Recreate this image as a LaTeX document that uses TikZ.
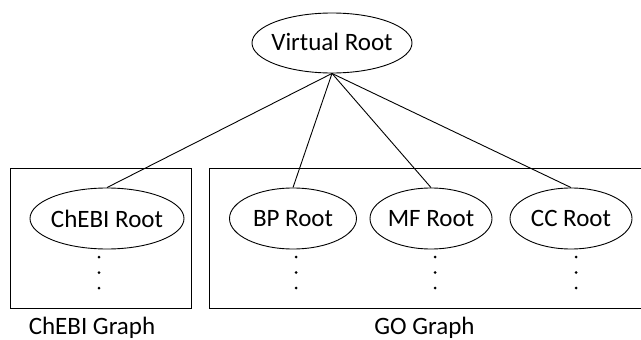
\documentclass[tikz,border=0pt]{standalone}
\usepackage{fontspec}
\setmainfont{Carlito}
\usetikzlibrary{shapes.geometric}

\tikzset{
  rootnode/.style={draw, ellipse, line width=0.9pt, inner sep=0pt,
    font=\fontsize{25}{30}\selectfont},
  graphbox/.style={draw, rectangle, line width=0.9pt, inner sep=0pt},
  edge/.style={line width=0.9pt},
  caption/.style={anchor=base, inner sep=0pt, font=\fontsize{25}{30}\selectfont},
  vdot/.style={fill, circle, inner sep=0pt, minimum size=3pt}
}

\begin{document}
\begin{tikzpicture}[x=1pt, y=-1pt]
  \clip (0,0) rectangle (641,340);
  \useasboundingbox (0,0) rectangle (641,340);

  % graph frames
  \node[graphbox, minimum width=181, minimum height=140] (chebibox) at (100.5,238) {};
  \node[graphbox, minimum width=451, minimum height=140] (gobox) at (434.5,238) {};

  % root nodes
  \node[rootnode, minimum width=160, minimum height=60] (vroot) at (332,43)
    {\raisebox{2pt}{\makebox[0pt]{Virtual Root}}};
  \node[rootnode, minimum width=154, minimum height=61] (chebi) at (107,218.5)
    {\makebox[0pt]{ChEBI Root}};
  \node[rootnode, minimum width=127, minimum height=61] (bp) at (293,218.5)
    {\makebox[0pt]{BP Root}};
  \node[rootnode, minimum width=122, minimum height=61] (mf) at (431,218.5)
    {\makebox[0pt]{MF Root}};
  \node[rootnode, minimum width=122, minimum height=61] (cc) at (571,218.5)
    {\makebox[0pt]{CC Root}};

  % edges from the virtual root
  \foreach \n in {chebi, bp, mf, cc}
    \draw[edge] (vroot.south) -- (\n.north);

  % vertical ellipses below each root
  \foreach \x/\n in {99/a, 296/b, 435/c, 576/d} {
    \node[vdot] (dot\n1) at (\x,257) {};
    \node[vdot] (dot\n2) at (\x,272.5) {};
    \node[vdot] (dot\n3) at (\x,288) {};
  }

  % captions
  \node[caption] (chebicap) at (92,334.5) {ChEBI Graph};
  \node[caption] (gocap) at (424.5,334.5) {GO Graph};
\end{tikzpicture}
\end{document}
